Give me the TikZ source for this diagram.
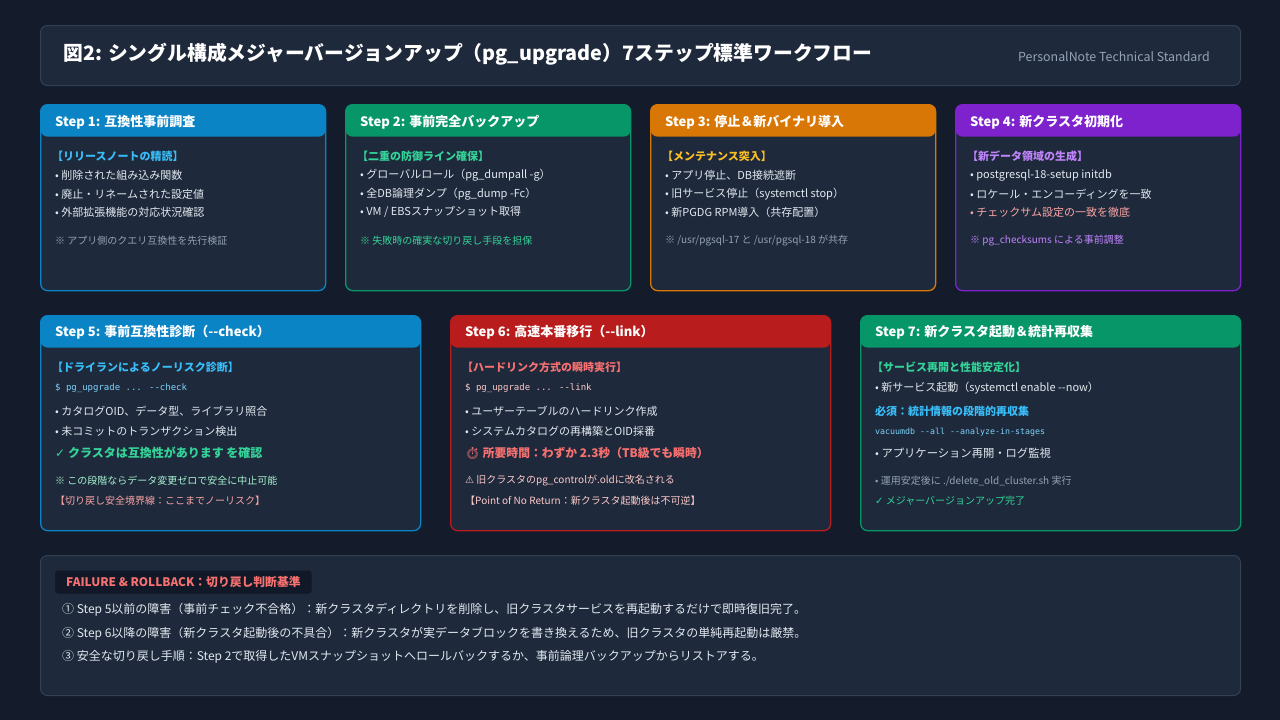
\documentclass[tikz,border=0pt]{standalone}
\usepackage{fontspec}
\setmainfont{Noto Sans CJK JP}[Ligatures=TeXOff]
\newfontfamily\codefont{DejaVu Sans Mono}
\newfontfamily\symfont{DejaVu Sans}
\newfontfamily\emojifont{Noto Emoji}
\usepackage{tikz}
\usetikzlibrary{positioning}

\definecolor{pagebg}{HTML}{141B2B}
\definecolor{panel}{HTML}{1E293B}
\definecolor{panelline}{HTML}{334155}
\definecolor{hblue}{HTML}{0B84C6}
\definecolor{hgreen}{HTML}{069668}
\definecolor{horange}{HTML}{D97706}
\definecolor{hpurple}{HTML}{7E22CE}
\definecolor{hred}{HTML}{B91C1C}
\definecolor{tblue}{HTML}{38BDF8}
\definecolor{tgreen}{HTML}{34D399}
\definecolor{tyellow}{HTML}{FBBF24}
\definecolor{tpurple}{HTML}{C084FC}
\definecolor{tred}{HTML}{F87171}
\definecolor{tbody}{HTML}{E2E8F0}
\definecolor{tgray}{HTML}{94A3B8}
\definecolor{tcode}{HTML}{7DD3FC}
\definecolor{tpink}{HTML}{FECACA}
\definecolor{tmint}{HTML}{A7F3D0}
\definecolor{tsalmon}{HTML}{FCA5A5}
\definecolor{tagbg}{HTML}{111827}

\begin{document}
\begin{tikzpicture}[x=1pt,y=-1pt,
    box/.style={draw=panelline,fill=panel,line width=1pt,rounded corners=7pt,inner sep=0pt,anchor=north west},
    card/.style={draw=#1,fill=panel,line width=1.3pt,rounded corners=7pt,inner sep=0pt,anchor=north west,
      path picture={\fill[#1] (path picture bounding box.north west) rectangle ([yshift=-32pt]path picture bounding box.north east);}},
    head/.style={text=white,font=\bfseries\fontsize{13}{15}\selectfont,inner sep=0pt,anchor=west},
    sub/.style={font=\bfseries\fontsize{11}{13}\selectfont,inner sep=0pt,anchor=west},
    item/.style={text=tbody,font=\fontsize{11}{13}\selectfont,inner sep=0pt,anchor=west},
    note/.style={font=\fontsize{10}{12}\selectfont,inner sep=0pt,anchor=west},
    code/.style={font=\codefont\fontsize{9}{11}\selectfont,inner sep=0pt,anchor=west},
    big/.style={font=\bfseries\fontsize{12}{14}\selectfont,inner sep=0pt,anchor=west}]

  \fill[pagebg] (0,0) rectangle (1280,720);

  % title bar
  \node[box,minimum width=1200pt,minimum height=60pt] (titlebox) at (40,25) {};
  \node[text=white,font=\bfseries\fontsize{19.8}{24}\selectfont,inner sep=0pt,anchor=west]
    (titletext) at (63,54) {図2: シングル構成メジャーバージョンアップ（pg\_upgrade）7ステップ標準ワークフロー};
  \node[text=tgray,font=\fontsize{12.4}{14}\selectfont,inner sep=0pt,anchor=east]
    (brand) at (1210,57) {PersonalNote Technical Standard};

  % upper row
  \node[card=hblue,minimum width=285pt,minimum height=186pt] (s1) at (40,104) {};
  \node[card=hgreen,minimum width=285pt,minimum height=186pt] (s2) at (345,104) {};
  \node[card=horange,minimum width=285pt,minimum height=186pt] (s3) at (650,104) {};
  \node[card=hpurple,minimum width=285pt,minimum height=186pt] (s4) at (955,104) {};

  \node[head] (s1h) at (55,122) {Step 1: 互換性事前調査};
  \node[sub,text=tblue] (s1a) at (52,156) {【リリースノートの精読】};
  \node[item] (s1b) at (55,175) {• 削除された組み込み関数};
  \node[item] (s1c) at (55,194) {• 廃止・リネームされた設定値};
  \node[item] (s1d) at (55,212) {• 外部拡張機能の対応状況確認};
  \node[note,text=tgray] (s1e) at (55,241) {※ アプリ側のクエリ互換性を先行検証};

  \node[head] (s2h) at (360,122) {Step 2: 事前完全バックアップ};
  \node[sub,text=tgreen] (s2a) at (357,156) {【二重の防御ライン確保】};
  \node[item] (s2b) at (360,175) {• グローバルロール（pg\_dumpall -g）};
  \node[item] (s2c) at (360,194) {• 全DB論理ダンプ（pg\_dump -Fc）};
  \node[item] (s2d) at (360,212) {• VM / EBSスナップショット取得};
  \node[note,text=tgreen] (s2e) at (360,241) {※ 失敗時の確実な切り戻し手段を担保};

  \node[head] (s3h) at (665,122) {Step 3: 停止＆新バイナリ導入};
  \node[sub,text=tyellow] (s3a) at (662,156) {【メンテナンス突入】};
  \node[item] (s3b) at (665,175) {• アプリ停止、DB接続遮断};
  \node[item] (s3c) at (665,194) {• 旧サービス停止（systemctl stop）};
  \node[item] (s3d) at (665,212) {• 新PGDG RPM導入（共存配置）};
  \node[note,text=tgray] (s3e) at (665,241) {※ /usr/pgsql-17 と /usr/pgsql-18 が共存};

  \node[head] (s4h) at (970,122) {Step 4: 新クラスタ初期化};
  \node[sub,text=tpurple] (s4a) at (967,156) {【新データ領域の生成】};
  \node[item] (s4b) at (970,175) {• postgresql-18-setup initdb};
  \node[item] (s4c) at (970,194) {• ロケール・エンコーディングを一致};
  \node[item,text=tsalmon] (s4d) at (970,212) {• チェックサム設定の一致を徹底};
  \node[note,text=tpurple] (s4e) at (970,241) {※ pg\_checksums による事前調整};

  % lower row
  \node[card=hblue,minimum width=380pt,minimum height=215pt] (s5) at (40,315) {};
  \node[card=hred,minimum width=380pt,minimum height=215pt] (s6) at (450,315) {};
  \node[card=hgreen,minimum width=380pt,minimum height=215pt] (s7) at (860,315) {};

  \node[head] (s5h) at (55,332) {Step 5: 事前互換性診断（--check）};
  \node[sub,text=tblue] (s5a) at (52,367) {【ドライランによるノーリスク診断】};
  \node[code,text=tcode] (s5b) at (55,388) {\$ pg\_upgrade ... --check};
  \node[item] (s5c) at (55,411) {• カタログOID、データ型、ライブラリ照合};
  \node[item] (s5d) at (55,431) {• 未コミットのトランザクション検出};
  \node[big,text=tgreen] (s5e) at (55,453) {{\symfont ✓} クラスタは互換性があります を確認};
  \node[note,text=tmint] (s5f) at (55,481) {※ この段階ならデータ変更ゼロで安全に中止可能};
  \node[note,text=tsalmon] (s5g) at (55,501) {【切り戻し安全境界線：ここまでノーリスク】};

  \node[head] (s6h) at (465,332) {Step 6: 高速本番移行（--link）};
  \node[sub,text=tred] (s6a) at (462,367) {【ハードリンク方式の瞬時実行】};
  \node[code,text=tpink] (s6b) at (465,388) {\$ pg\_upgrade ... --link};
  \node[item] (s6c) at (465,411) {• ユーザーテーブルのハードリンク作成};
  \node[item] (s6d) at (465,431) {• システムカタログの再構築とOID採番};
  \node[big,text=tred,font=\bfseries\fontsize{11.8}{14}\selectfont] (s6e) at (465,453) {{\emojifont ⏱} 所要時間：わずか 2.3秒（TB級でも瞬時）};
  \node[note,text=tpink] (s6f) at (465,481) {{\symfont ⚠} 旧クラスタのpg\_controlが.oldに改名される};
  \node[note,text=tpink] (s6g) at (465,501) {【Point of No Return：新クラスタ起動後は不可逆】};

  \node[head] (s7h) at (875,332) {Step 7: 新クラスタ起動＆統計再収集};
  \node[sub,text=tgreen] (s7a) at (872,367) {【サービス再開と性能安定化】};
  \node[item] (s7b) at (875,388) {• 新サービス起動（systemctl enable --now）};
  \node[sub,text=tblue] (s7c) at (875,411) {必須：統計情報の段階的再収集};
  \node[code,text=tcode,font=\codefont\fontsize{8.3}{10}\selectfont] (s7d) at (875,432) {vacuumdb --all --analyze-in-stages};
  \node[item,font=\fontsize{11.3}{13}\selectfont] (s7e) at (875,453) {• アプリケーション再開・ログ監視};
  \node[note,text=tgray] (s7f) at (875,481) {• 運用安定後に ./delete\_old\_cluster.sh 実行};
  \node[note,text=tgreen] (s7g) at (875,501) {{\symfont ✓} メジャーバージョンアップ完了};

  % rollback panel
  \node[box,minimum width=1200pt,minimum height=140pt] (rollback) at (40,555) {};
  \node[fill=tagbg,text=tred,rounded corners=3pt,inner xsep=11pt,minimum height=23pt,anchor=west,
    font=\bfseries\fontsize{11.8}{14}\selectfont] (rbtag) at (55,582) {FAILURE \& ROLLBACK：切り戻し判断基準};
  \node[item,font=\fontsize{12}{14}\selectfont] (rb1) at (62,610) {① Step 5以前の障害（事前チェック不合格）：新クラスタディレクトリを削除し、旧クラスタサービスを再起動するだけで即時復旧完了。};
  \node[item,font=\fontsize{12}{14}\selectfont] (rb2) at (62,634) {② Step 6以降の障害（新クラスタ起動後の不具合）：新クラスタが実データブロックを書き換えるため、旧クラスタの単純再起動は厳禁。};
  \node[item,font=\fontsize{12}{14}\selectfont] (rb3) at (62,657) {③ 安全な切り戻し手順：Step 2で取得したVMスナップショットへロールバックするか、事前論理バックアップからリストアする。};
\end{tikzpicture}
\end{document}
